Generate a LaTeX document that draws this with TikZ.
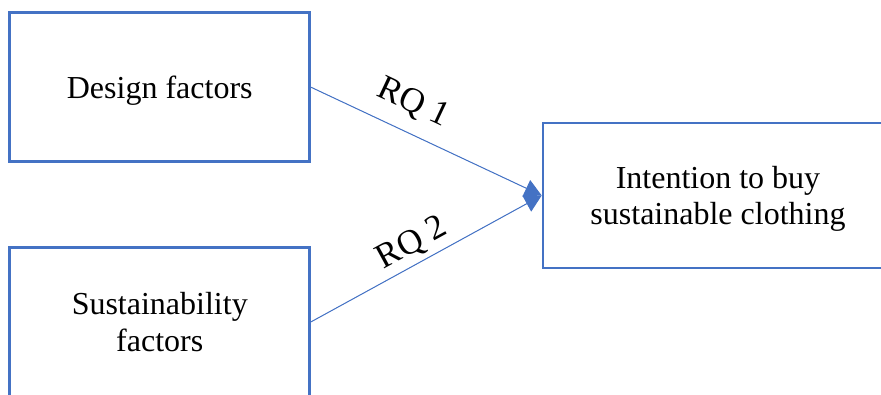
\documentclass[tikz,border=0pt]{standalone}
\usepackage{fontspec}
\setmainfont{Liberation Serif}
\usetikzlibrary{arrows.meta,positioning}

\definecolor{boxblue}{RGB}{68,114,196}

\begin{document}
\begin{tikzpicture}[
    x=1pt, y=1pt,
    font=\fontsize{32}{36.5}\selectfont,
    block/.style={draw=boxblue, line width=2.6pt, fill=white, rectangle, minimum height=149pt, align=center, inner sep=0pt, text depth=-3pt},
    factor/.style={block, minimum width=300pt},
    outcome/.style={block, minimum width=350pt, minimum height=145pt},
    rqlabel/.style={sloped, inner sep=2pt, font=\fontsize{35}{40}\selectfont},
    arrow/.style={-{Triangle[length=17pt,width=18pt]}, draw=boxblue, fill=boxblue, line width=1pt}
]
\useasboundingbox (0,0) rectangle (881,394);
\clip (0,0) rectangle (881,394);

% Factors
\node[factor] (design) at (159.75,306.75) {Design factors};
\node[factor, below=83pt of design] (sustain) {Sustainability\\factors};

% Outcome
\node[outcome] (intention) at (718,198.5) {Intention to buy\\sustainable clothing};

% Arrows
\draw[arrow] (design.east) -- node[rqlabel, above=12pt, pos=0.39] {RQ 1} (intention.west);
\draw[arrow] (sustain.east) -- node[rqlabel, above=3pt, pos=0.48] {RQ 2} (intention.west);
\end{tikzpicture}
\end{document}
